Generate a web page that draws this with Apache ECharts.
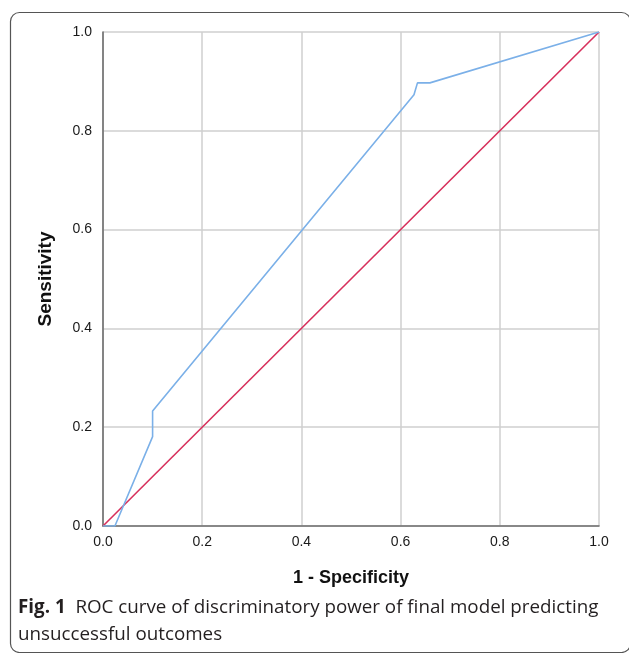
<!DOCTYPE html>
<html>
<head>
<meta charset="utf-8">
<script src="https://cdn.jsdelivr.net/npm/echarts@6/dist/echarts.min.js"></script>
<style>
html,body{margin:0;padding:0;background:#fff;}
#c{width:629px;height:653px;}
</style>
</head>
<body>
<div id="c"></div>
<script>
var tickValues = [0, 0.2, 0.4, 0.6, 0.8, 1.0];
var rocX = [0, 0.024, 0.1, 0.1, 0.627, 0.634, 0.659, 1.0];
var rocY = [0, 0, 0.181, 0.233, 0.873, 0.897, 0.897, 1.0];
var refX = [0, 1.0];
var refY = [0, 1.0];
var xTitle = '1 - Specificity';
var yTitle = 'Sensitivity';
var captionBold = 'Fig. 1';
var captionLine1 = 'ROC curve of discriminatory power of final model predicting';
var captionLine2 = 'unsuccessful outcomes';

function pairs(xs, ys){ return xs.map(function(x,i){ return [x, ys[i]]; }); }

var chart = echarts.init(document.getElementById('c'), null, {renderer:'canvas'});
var axisCommon = {
  type:'value', min:0, max:1, interval:0.2,
  axisLine:{show:true, onZero:false, lineStyle:{color:'#6e6e6e', width:1.6}},
  axisTick:{show:false},
  splitLine:{show:true, lineStyle:{color:'#cfcfcf', width:1.5}},
  axisLabel:{color:'#1a1a1a', fontFamily:'Liberation Sans, Arial, sans-serif', fontSize:14,
    formatter:function(v){ return v.toFixed(1); }},
  nameLocation:'middle'
};
var nameStyle = {color:'#111', fontFamily:'Liberation Sans, Arial, sans-serif', fontWeight:'bold'};
chart.setOption({
  animation:false,
  backgroundColor:'#fff',
  grid:{left:103, right:30, top:32, bottom:127, containLabel:false},
  xAxis: Object.assign({}, axisCommon, {name:xTitle, nameGap:43,
    nameTextStyle:Object.assign({}, nameStyle, {fontSize:18}),
    axisLabel:Object.assign({}, axisCommon.axisLabel, {margin:9})}),
  yAxis: Object.assign({}, axisCommon, {name:yTitle, nameGap:48,
    nameTextStyle:Object.assign({}, nameStyle, {fontSize:19}),
    axisLabel:Object.assign({}, axisCommon.axisLabel, {margin:11})}),
  series:[
    {type:'line', data:pairs(refX, refY), symbol:'none', lineStyle:{color:'#d7305c', width:1.6}, z:3},
    {type:'line', data:pairs(rocX, rocY), symbol:'none', lineStyle:{color:'#7bb0e8', width:1.6}, z:4}
  ],
  graphic:[
    {type:'rect', shape:{x:10.5, y:12.5, width:620, height:640, r:9}, style:{fill:null, stroke:'#555', lineWidth:1.2}, silent:true, z:-1},
    {type:'text', left:18, top:594, style:{
      rich:{b:{fontFamily:'Open Sans, Noto Sans, sans-serif', fontWeight:'bold', fontSize:18.8, fill:'#231f20'},
            n:{fontFamily:'Open Sans, Noto Sans, sans-serif', fontSize:18.8, fill:'#231f20'}},
      text:'{b|'+captionBold+'}{n|  '+captionLine1+'}\n{n|'+captionLine2+'}',
      lineHeight:27
    }}
  ]
});
</script>
</body>
</html>
